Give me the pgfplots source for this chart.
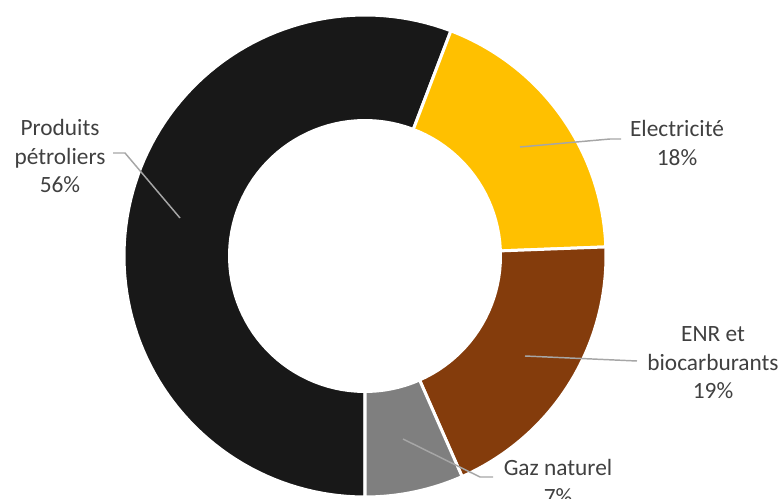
\documentclass[border=0pt]{standalone}
\usepackage{pgfplots}
\pgfplotsset{compat=1.18}
\usepackage{fontspec}
\setmainfont{Carlito}
\definecolor{cPet}{HTML}{181818}
\definecolor{cElec}{HTML}{FFC000}
\definecolor{cEnr}{HTML}{843C0C}
\definecolor{cGaz}{HTML}{7F7F7F}
\definecolor{txt}{HTML}{404040}
\definecolor{lead}{HTML}{A6A6A6}
% shares (percent), clockwise from 6 o'clock
\def\vPet{55.8}
\def\vElec{18.6}
\def\vEnr{19.0}
\def\vGaz{6.6}
\pgfmathsetmacro{\aZero}{270}
\pgfmathsetmacro{\aOne}{\aZero-3.6*\vPet}
\pgfmathsetmacro{\aTwo}{\aOne-3.6*\vElec}
\pgfmathsetmacro{\aThree}{\aTwo-3.6*\vEnr}
\pgfmathsetmacro{\aFour}{\aThree-3.6*\vGaz}
\def\cx{365}\def\cy{256}\def\Ro{241}\def\Ri{137}
\begin{document}
\begin{tikzpicture}
\begin{axis}[
  width=586.5pt, height=374.25pt, scale only axis,
  hide axis, xmin=0, xmax=782, ymin=0, ymax=499, y dir=reverse,
  clip=false,
]
\addplot[fill=cPet, draw=white, line width=2.25pt, domain=\aOne:\aZero, samples=100, variable=\t]
  ({\cx+\Ro*cos(t)},{\cy-\Ro*sin(t)}) -- (axis cs:\cx,\cy) -- cycle;
\addplot[fill=cElec, draw=white, line width=2.25pt, domain=\aTwo:\aOne, samples=50, variable=\t]
  ({\cx+\Ro*cos(t)},{\cy-\Ro*sin(t)}) -- (axis cs:\cx,\cy) -- cycle;
\addplot[fill=cEnr, draw=white, line width=2.25pt, domain=\aThree:\aTwo, samples=50, variable=\t]
  ({\cx+\Ro*cos(t)},{\cy-\Ro*sin(t)}) -- (axis cs:\cx,\cy) -- cycle;
\addplot[fill=cGaz, draw=white, line width=2.25pt, domain=\aFour:\aThree, samples=30, variable=\t]
  ({\cx+\Ro*cos(t)},{\cy-\Ro*sin(t)}) -- (axis cs:\cx,\cy) -- cycle;
\addplot[fill=white, draw=none, domain=0:360, samples=120, variable=\t]
  ({\cx+\Ri*cos(t)},{\cy-\Ri*sin(t)}) -- cycle;
% leader lines
\addplot[lead, line width=1.1pt, no marks] coordinates {(113,153) (125,153) (180,218)};
\addplot[lead, line width=1.1pt, no marks] coordinates {(520,147) (610,139) (621,139)};
\addplot[lead, line width=1.1pt, no marks] coordinates {(525,356) (637,361)};
\addplot[lead, line width=1.1pt, no marks] coordinates {(403,439) (480,477) (493,477)};
% labels
\tikzset{lbl/.style={align=center, text=txt, inner sep=0pt, font=\fontsize{17.5}{21.4}\selectfont}}
\node[lbl] at (axis cs:60,156) {Produits\\pétroliers\\56\%};
\node[lbl] at (axis cs:677,143) {Electricité\\18\%};
\node[lbl] at (axis cs:713,363) {ENR et\\biocarburants\\19\%};
\node[lbl] at (axis cs:558,482) {Gaz naturel\\7\%};
\end{axis}
\pgfresetboundingbox
\path[use as bounding box] (current axis.south west) rectangle (current axis.north east);
\end{tikzpicture}
\end{document}
